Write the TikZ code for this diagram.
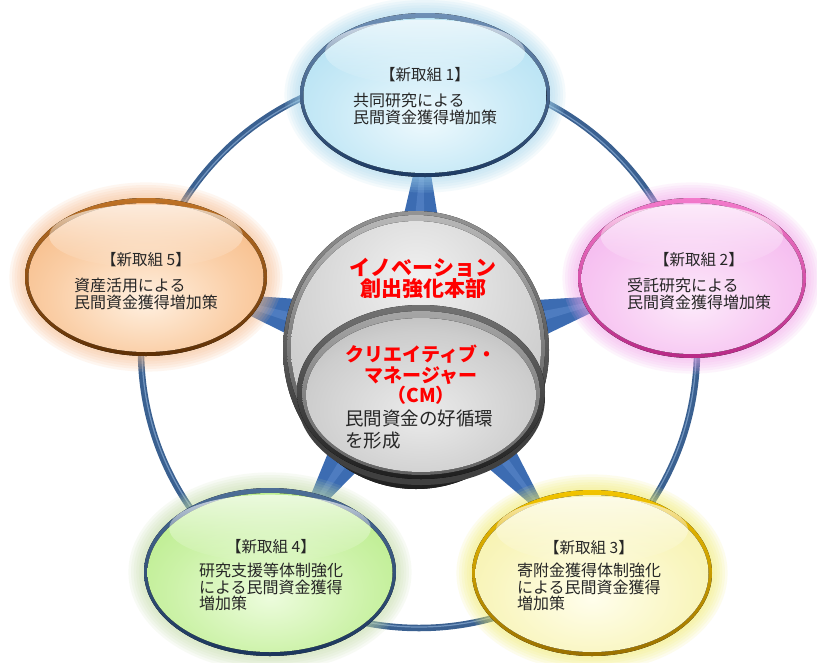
\documentclass[tikz,border=0pt]{standalone}
\usepackage{fontspec}
\setmainfont{Noto Sans CJK JP}
\usetikzlibrary{calc,shapes.geometric,fadings}
% ring, star
\definecolor{ringc}{HTML}{3A6090}
\definecolor{ringhi}{HTML}{7396C0}
\definecolor{starc}{HTML}{3C6CB2}
\definecolor{starhi}{HTML}{5A88CA}
% ellipse 1 (cyan)
\definecolor{aIn}{HTML}{EEF9FD}\definecolor{aBase}{HTML}{A2DAF0}
\definecolor{aGlow}{HTML}{A6D8EE}\definecolor{aRimL}{HTML}{6F90B6}\definecolor{aRimD}{HTML}{1D3A62}
% ellipse 2 (pink)
\definecolor{bIn}{HTML}{FCEAFA}\definecolor{bBase}{HTML}{F3A8EB}
\definecolor{bGlow}{HTML}{F3A8EC}\definecolor{bRimL}{HTML}{F27ACB}\definecolor{bRimD}{HTML}{B82A86}
% ellipse 3 (yellow)
\definecolor{cIn}{HTML}{FFFEEC}\definecolor{cBase}{HTML}{F4EE98}
\definecolor{cGlow}{HTML}{F2EC6A}\definecolor{cRimL}{HTML}{F2C400}\definecolor{cRimD}{HTML}{9A7000}
% ellipse 4 (green)
\definecolor{dIn}{HTML}{ECFCDC}\definecolor{dBase}{HTML}{ACE874}
\definecolor{dGlow}{HTML}{C4DCA6}\definecolor{dRimL}{HTML}{4D6E96}\definecolor{dRimD}{HTML}{1C365C}
% ellipse 5 (orange)
\definecolor{eIn}{HTML}{FFF0E0}\definecolor{eBase}{HTML}{F5AC6C}
\definecolor{eGlow}{HTML}{F8BC8A}\definecolor{eRimL}{HTML}{BE7226}\definecolor{eRimD}{HTML}{5E3006}
% grays
\definecolor{gIn}{HTML}{F0F0F0}\definecolor{gMid}{HTML}{CECECE}\definecolor{gOut}{HTML}{9A9A9A}
\definecolor{iIn}{HTML}{EBEBEB}\definecolor{iMid}{HTML}{CDCDCD}\definecolor{iOut}{HTML}{9A9A9A}

\pgfdeclareradialshading{shA}{\pgfpoint{0bp}{-8bp}}{color(0bp)=(aIn); color(20bp)=(aIn!50!aBase); color(44bp)=(aBase); color(100bp)=(aBase)}
\pgfdeclareradialshading{shB}{\pgfpoint{0bp}{-8bp}}{color(0bp)=(bIn); color(20bp)=(bIn!50!bBase); color(44bp)=(bBase); color(100bp)=(bBase)}
\pgfdeclareradialshading{shC}{\pgfpoint{0bp}{-8bp}}{color(0bp)=(cIn); color(20bp)=(cIn!50!cBase); color(44bp)=(cBase); color(100bp)=(cBase)}
\pgfdeclareradialshading{shD}{\pgfpoint{0bp}{-8bp}}{color(0bp)=(dIn); color(20bp)=(dIn!50!dBase); color(44bp)=(dBase); color(100bp)=(dBase)}
\pgfdeclareradialshading{shE}{\pgfpoint{0bp}{-8bp}}{color(0bp)=(eIn); color(20bp)=(eIn!50!eBase); color(44bp)=(eBase); color(100bp)=(eBase)}
\pgfdeclareradialshading{shG}{\pgfpoint{0bp}{14bp}}{color(0bp)=(gIn); color(28bp)=(gMid); color(56bp)=(gOut); color(100bp)=(gOut)}
\pgfdeclareradialshading{shI}{\pgfpoint{0bp}{-6bp}}{color(0bp)=(iIn); color(25bp)=(iMid); color(50bp)=(iOut); color(100bp)=(iOut)}

\tikzset{
  hdr/.style={font=\fontsize{15.5}{17}\selectfont, inner sep=0pt, text=black!85},
  body/.style={font=\fontsize{16}{16.5}\selectfont, align=left, inner sep=0pt, text=black!85},
  redtitle/.style={font=\bfseries\fontsize{21}{21}\selectfont, text=red, align=center, inner sep=0pt},
  redsub/.style={font=\bfseries\fontsize{19}{20.5}\selectfont, text=red, align=center, inner sep=0pt},
  blacksub/.style={font=\fontsize{18.5}{22}\selectfont, text=black!85, align=left, inner sep=0pt},
  ellnode/.style={ellipse, inner sep=0pt, outer sep=0pt}
}

% #1 name, #2 x, #3 y, #4 rx, #5 ry, #6 prefix letter for colours, #7 shading
\newcommand\glossyell[7]{%
  \foreach \k in {6,5,...,1}{%
    \pgfmathsetmacro\rxk{#4+2.6*\k}\pgfmathsetmacro\ryk{#5+2.6*\k}%
    \fill[#6Glow, opacity=0.12] (#2,#3) ellipse [x radius=\rxk pt, y radius=\ryk pt];
  }
  \fill[top color=#6RimL, bottom color=#6RimD] (#2,#3) ellipse [x radius=#4pt, y radius=#5pt];
  \pgfmathsetmacro\rxi{#4-3.5}\pgfmathsetmacro\ryi{#5-4.5}%
  \fill[shading=#7] (#2,#3.5) ellipse [x radius=\rxi pt, y radius=\ryi pt];
  \pgfmathsetmacro\hy{#3-0.52*#5}\pgfmathsetmacro\hrx{0.8*#4}\pgfmathsetmacro\hry{0.4*#5}%
  \fill[white, opacity=0.7, path fading=south] (#2,\hy) ellipse [x radius=\hrx pt, y radius=\hry pt];
  \node[ellnode, minimum width=2*#4pt, minimum height=2*#5pt] (#1) at (#2,#3) {};
}

\begin{document}
\begin{tikzpicture}[x=1pt,y=-1pt]
\useasboundingbox (0,0) rectangle (817,662);
\fill[white] (0,0) rectangle (817,662);

% centres
\coordinate (c) at (416,350);
\coordinate (e1c) at (425,95);
\coordinate (e2c) at (692,278);
\coordinate (e3c) at (592,573);
\coordinate (e4c) at (270,572);
\coordinate (e5c) at (146,277);

% ring
\coordinate (rc) at (419,350);
\draw[line width=6.5pt, ringc] (rc) circle [radius=278pt];
\draw[line width=1.2pt, ringhi] (rc) circle [radius=277pt];

% star points
\foreach \e in {e1c,e2c,e3c,e4c,e5c}{
  \fill[starc] ($(c)!221pt!(\e)$) -- ($(c)!60pt!34:(\e)$) -- (c) -- ($(c)!60pt!-34:(\e)$) -- cycle;
  \fill[starhi, opacity=0.6] ($(c)!218pt!(\e)$) -- ($(c)!60pt!10:(\e)$) -- (c) -- ($(c)!60pt!-6:(\e)$) -- cycle;
}

% satellite ellipses
\glossyell{e1}{425}{95}{125}{82}{a}{shA}
\glossyell{e2}{692}{278}{114}{80}{b}{shB}
\glossyell{e3}{592}{573}{120}{83}{c}{shC}
\glossyell{e4}{270}{572}{126}{84}{d}{shD}
\glossyell{e5}{146}{277}{121}{79}{e}{shE}

% central big circle
\fill[top color=black!42, bottom color=black!88] (c) ellipse [x radius=133pt, y radius=139pt];
\fill[top color=black!28, bottom color=black!75] (416,348) ellipse [x radius=129pt, y radius=133pt];
\fill[shading=shG] (416,348) ellipse [x radius=125pt, y radius=127pt];
\node[ellnode, minimum width=266pt, minimum height=278pt] (cn) at (c) {};

% inner ellipse
\coordinate (ic) at (421,392);
\fill[black!75] (421,398) ellipse [x radius=124pt, y radius=87pt];
\fill[top color=black!55, bottom color=black!88] (ic) ellipse [x radius=124pt, y radius=87pt];
\fill[top color=black!35, bottom color=black!62] (421,393) ellipse [x radius=119pt, y radius=82pt];
\fill[shading=shI] (421,395) ellipse [x radius=115pt, y radius=77pt];
\node[ellnode, minimum width=248pt, minimum height=174pt] (inn) at (ic) {};

% texts in satellites
\node[hdr] (h1) at (425,75) {【新取組 1】};
\node[body] (b1) at (425,109) {共同研究による\\民間資金獲得増加策};
\node[hdr] (h2) at (699,260) {【新取組 2】};
\node[body] (b2) at (699,294) {受託研究による\\民間資金獲得増加策};
\node[hdr] (h3) at (589,548) {【新取組 3】};
\node[body] (b3) at (589,587) {寄附金獲得体制強化\\による民間資金獲得\\増加策};
\node[hdr] (h4) at (271,547) {【新取組 4】};
\node[body] (b4) at (271,587) {研究支援等体制強化\\による民間資金獲得\\増加策};
\node[hdr] (h5) at (146,260) {【新取組 5】};
\node[body] (b5) at (146,294) {資産活用による\\民間資金獲得増加策};

% centre texts
\node[redtitle] (t1) at (423,278) {イノベーション\\創出強化本部};
\node[redsub] (t2) at (421,375) {クリエイティブ・\\マネージャー\\（CM）};
\node[blacksub, anchor=west] (t3) at (345,430) {民間資金の好循環\\を形成};
\end{tikzpicture}
\end{document}
